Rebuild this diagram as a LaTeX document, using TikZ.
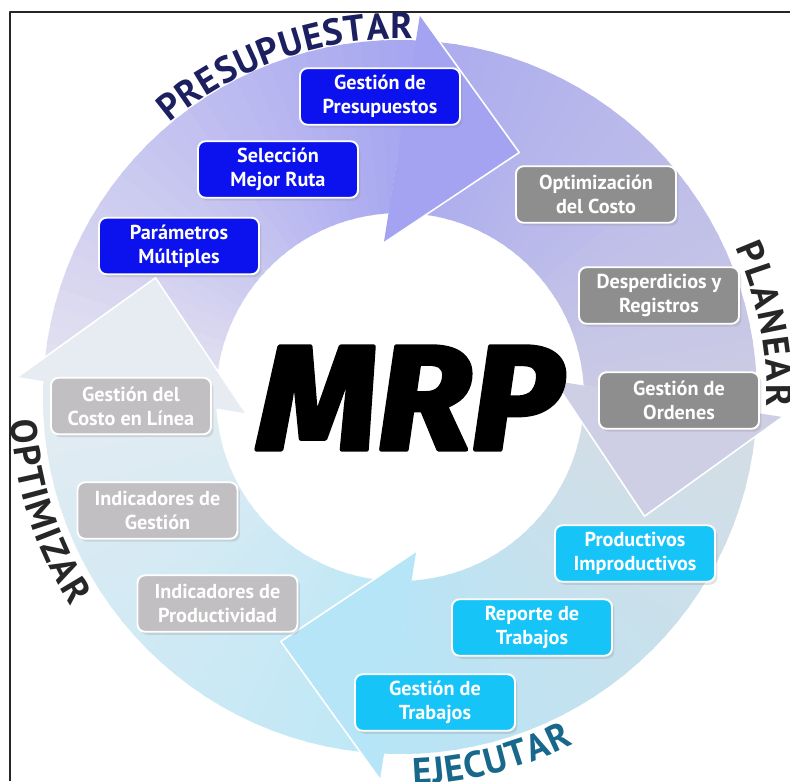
\documentclass[tikz,border=0pt]{standalone}
\usepackage{fontspec}
\setmainfont{PT Sans}
\newfontfamily\mrpfont{Fira Sans}[FakeBold=3]
\usetikzlibrary{decorations.text,shadows}

\definecolor{azulP}{RGB}{12,18,238}
\definecolor{grisP}{RGB}{142,142,142}
\definecolor{cianE}{RGB}{22,196,248}
\definecolor{grisO}{RGB}{193,191,193}
\definecolor{anilloA}{RGB}{234,232,240}
\definecolor{anilloB}{RGB}{163,163,241}
\definecolor{anilloC}{RGB}{168,168,240}
\definecolor{anilloD}{RGB}{206,206,228}
\definecolor{anilloE}{RGB}{216,220,226}
\definecolor{anilloF}{RGB}{182,229,247}
\definecolor{anilloG}{RGB}{186,231,247}
\definecolor{anilloH}{RGB}{230,236,241}
\definecolor{navyP}{RGB}{28,32,96}
\definecolor{tealE}{RGB}{24,104,140}

\tikzset{
  caja/.style={rounded corners=0.15cm, draw=white, line width=1.1pt,
    minimum width=3.2cm, minimum height=1.13cm, inner sep=0pt, align=center,
    text=white, font=\fontsize{11.5}{13.6}\selectfont\bfseries,
    drop shadow={shadow xshift=0.05cm, shadow yshift=-0.06cm, opacity=0.22}},
  rotulo/.style={decorate, decoration={text along path, text align={fit to path}}}
}

\begin{document}
\begin{tikzpicture}[x=0.02cm, y=0.02cm, line join=round]
\useasboundingbox (-400,-384) rectangle (390,397);
\fill[white] (-400,-384) rectangle (390,397);
\def\Ro{357}\def\Ri{184}
% cuerpos de las flechas del anillo
\foreach \rot/\colA/\colB in {0/anilloA/anilloB, -90/anilloC/anilloD, -180/anilloE/anilloF, -270/anilloG/anilloH}{
  \begin{scope}[rotate=\rot]
    \clip (177.4:\Ro) arc[start angle=177.4, end angle=87.4, radius=\Ro] -- (93.6:\Ri) arc[start angle=93.6, end angle=183.6, radius=\Ri] -- cycle;
    \foreach \i in {0,...,33}{
      \pgfmathtruncatemacro\p{100*\i/33}
      \fill[\colB!\p!\colA] (0,0) -- (186.4-3*\i:400) -- (182.6-3*\i:400) -- cycle;
    }
  \end{scope}
}
% puntas
\foreach \rot/\colB in {0/anilloB, -90/anilloD, -180/anilloF, -270/anilloH}{
  \begin{scope}[rotate=\rot]
    \fill[\colB] (87:383) -- (64:272) -- (96:155) -- cycle;
    \draw[white, line width=0.9pt] (87:383) -- (64:272) -- (96:155);
  \end{scope}
}
\draw[line width=0.04cm, black!85] (-390,-384) -- (-390,385) -- (390,385);

\path[rotulo, decoration={text={|\fontsize{21}{24}\selectfont\bfseries|PRESUPUESTAR}, text color=navyP}] (130:358) arc[start angle=130, end angle=88, radius=358];
\path[rotulo, decoration={text={|\fontsize{21}{24}\selectfont\bfseries|PLANEAR}, text color=black!85}] (24:367) arc[start angle=24, end angle=-1.5, radius=367];
\path[rotulo, decoration={text={|\fontsize{21}{24}\selectfont\bfseries|EJECUTAR}, text color=tealE}] (-88:388) arc[start angle=-88, end angle=-63.5, radius=388];
\path[rotulo, decoration={text={|\fontsize{21}{24}\selectfont\bfseries|OPTIMIZAR}, text color=black!85}] (183.5:390) arc[start angle=183.5, end angle=212.5, radius=390];

\node[caja, fill=azulP] (presupuestos) at (-20,300.5) {Gestión de\\Presupuestos};
\node[caja, fill=azulP] (ruta) at (-122,227.5) {Selección\\Mejor Ruta};
\node[caja, fill=azulP] (parametros) at (-221,151) {Parámetros\\Múltiples};
\node[caja, fill=grisP] (costo) at (196,202.5) {Optimización\\del Costo};
\node[caja, fill=grisP] (desperdicios) at (259,101.5) {Desperdicios y\\Registros};
\node[caja, fill=grisP] (ordenes) at (279,-3.5) {Gestión de\\Ordenes};
\node[caja, fill=cianE] (productivos) at (235,-156.5) {Productivos\\Improductivos};
\node[caja, fill=cianE] (reporte) at (132,-230.5) {Reporte de\\Trabajos};
\node[caja, fill=cianE] (trabajos) at (35,-305.5) {Gestión de\\Trabajos};
\node[caja, fill=grisO] (linea) at (-269,-9) {Gestión del\\Costo en Línea};
\node[caja, fill=grisO] (indgestion) at (-242.5,-113.5) {Indicadores de\\Gestión};
\node[caja, fill=grisO] (indprod) at (-182.5,-206.5) {Indicadores de\\Productividad};

\node[inner sep=0pt] (mrp) at (10,-1) {\resizebox{6.1cm}{2.06cm}{\mrpfont\bfseries\itshape MRP}};
\end{tikzpicture}
\end{document}
